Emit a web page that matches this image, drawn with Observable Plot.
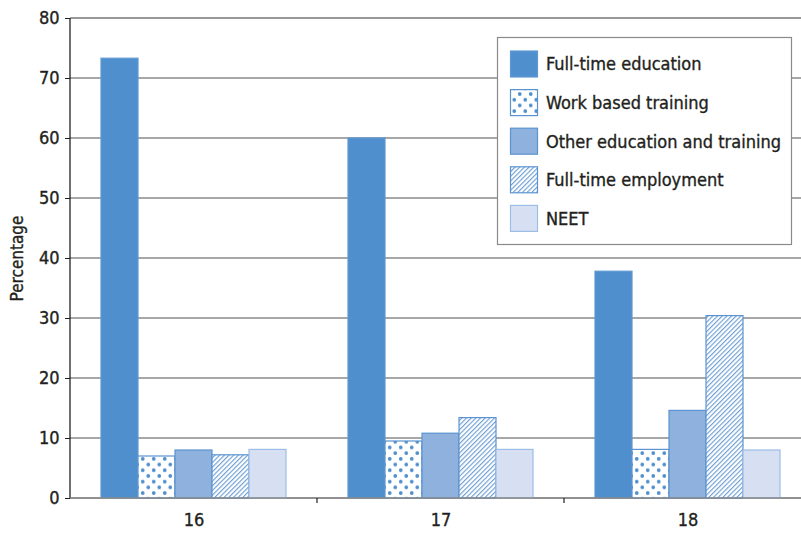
<!DOCTYPE html>
<html>
<head>
<meta charset="utf-8">
<script src="https://cdn.jsdelivr.net/npm/d3@7"></script>
<script src="https://cdn.jsdelivr.net/npm/@observablehq/plot@0.6"></script>
<style>
  html, body { margin: 0; padding: 0; background: #fff; }
  #chart svg { display: block; }
  #chart svg text { stroke: #231f20; stroke-width: 0.35px; fill: #231f20; }
</style>
</head>
<body>
<div id="chart"></div>
<script>
// ---- data ----
const ages = ["16", "17", "18"];
const categories = ["Full-time education", "Work based training", "Other education and training", "Full-time employment", "NEET"];
const fullTimeEducation = [73.3, 60.0, 37.8];
const workBasedTraining = [7.0, 9.5, 8.1];
const otherEducation = [8.0, 10.8, 14.6];
const fullTimeEmployment = [7.2, 13.4, 30.4];
const neet = [8.1, 8.1, 8.0];
const yTicks = [0, 10, 20, 30, 40, 50, 60, 70, 80];

// ---- styles ----
const fills = ["#4f8fcd", "url(#dots)", "#8fb1dd", "url(#hatch)", "#d7e0f2"];
const strokes = ["#5f9ad3", "#5b93d0", "#5b93d0", "#5b93d0", "#9cbde6"];
const font = "'Liberation Sans Narrow', 'DejaVu Sans Condensed', Arial, sans-serif";

const series = [fullTimeEducation, workBasedTraining, otherEducation, fullTimeEmployment, neet];
const data = [];
ages.forEach((age, i) => {
  categories.forEach((cat, j) => {
    data.push({age, cat, value: series[j][i], fill: fills[j], stroke: strokes[j]});
  });
});

const W = 801, H = 533;
const plot = Plot.plot({
  width: W,
  height: H,
  marginLeft: 70,
  marginRight: -10,
  marginTop: 18,
  marginBottom: 35,
  style: {fontFamily: font, fontSize: "18px", color: "#231f20", background: "#fff"},
  fx: {domain: ages, paddingInner: 0.243, paddingOuter: 0.1215, tickSize: 0, tickPadding: 15, label: null},
  x: {domain: categories, padding: 0, axis: null},
  y: {domain: [0, 80], ticks: yTicks, tickSize: 5, tickPadding: 6, label: "Percentage", labelAnchor: "center", labelOffset: 60, tickFormat: d => String(d)},
  color: {type: "identity"},
  facet: {data, x: "age"},
  marks: [
    Plot.barY(data, {x: "cat", y: "value", fill: "fill", stroke: "stroke", strokeWidth: 1.2})
  ]
});

const svg = d3.select(plot);
const y = plot.scale("y");
const fx = plot.scale("fx");
const left = 70;

// move Plot's y axis from the first facet's edge to the frame's left edge
const shift = fx.apply(ages[0]) - left;
svg.selectAll("g").filter(function () {
  const a = this.getAttribute("aria-label") || "";
  return a.startsWith("y-axis");
}).each(function () {
  const t = this.getAttribute("transform") || "";
  this.setAttribute("transform", `translate(${-shift},0) ${t}`);
});
svg.selectAll("text").filter(function () { return /Percentage/.test(this.textContent); })
  .each(function () {
    const tspans = d3.select(this).selectAll("tspan");
    if (tspans.size()) tspans.text(function () { return this.textContent.replace(/\s*[↑→]\s*/g, ""); });
    else d3.select(this).text("Percentage");
  })
  .attr("font-size", 17);

// patterns
const defs = svg.insert("defs", ":first-child");
const dots = defs.append("pattern").attr("id", "dots").attr("patternUnits", "userSpaceOnUse")
  .attr("width", 11).attr("height", 11.4);
dots.append("rect").attr("width", 11).attr("height", 11.4).attr("fill", "#fff");
[[2.75, 2.85], [8.25, 8.55], [8.25, -2.85], [-2.75, 8.55], [13.75, 8.55], [8.25, 14.25]].forEach(([cx, cy]) =>
  dots.append("circle").attr("cx", cx).attr("cy", cy).attr("r", 1.9).attr("fill", "#4f8fcd"));
const hatch = defs.append("pattern").attr("id", "hatch").attr("patternUnits", "userSpaceOnUse")
  .attr("width", 3.3).attr("height", 6).attr("patternTransform", "rotate(45)");
hatch.append("rect").attr("width", 3.3).attr("height", 6).attr("fill", "#fff");
hatch.append("line").attr("x1", 0.6).attr("y1", 0).attr("x2", 0.6).attr("y2", 6).attr("stroke", "#5b93d0").attr("stroke-width", 1);

// gridlines, axis line, baseline, separators (via Plot scales)
const under = svg.insert("g", "g[aria-label='bar']");
yTicks.forEach(t => {
  under.append("line").attr("x1", left).attr("x2", W).attr("y1", y.apply(t)).attr("y2", y.apply(t))
    .attr("stroke", t === 80 ? "#333" : "#8a8a8a").attr("stroke-width", t === 80 ? 1.2 : 1.5);
});
svg.append("line").attr("x1", left).attr("x2", left).attr("y1", y.apply(80)).attr("y2", y.apply(0) + 0.5)
  .attr("stroke", "#231f20").attr("stroke-width", 1.3);
svg.append("line").attr("x1", left).attr("x2", W).attr("y1", y.apply(0)).attr("y2", y.apply(0))
  .attr("stroke", "#8a8a8a").attr("stroke-width", 1.5);
for (let i = 0; i < ages.length - 1; i++) {
  const xa = fx.apply(ages[i]) + fx.bandwidth, xb = fx.apply(ages[i + 1]);
  const xs = (xa + xb) / 2;
  svg.append("line").attr("x1", xs).attr("x2", xs).attr("y1", y.apply(0)).attr("y2", y.apply(0) + 5)
    .attr("stroke", "#231f20").attr("stroke-width", 1.2);
}

// legend
const lg = svg.append("g").attr("font-family", font).attr("font-size", 18).attr("fill", "#231f20")
  .attr("text-anchor", "start");
lg.append("rect").attr("x", 497.5).attr("y", 37.5).attr("width", 294).attr("height", 207)
  .attr("fill", "#fff").attr("stroke", "#8a8a8a").attr("stroke-width", 1.2);
categories.forEach((c, j) => {
  const cy = 64 + j * 38.6;
  lg.append("rect").attr("x", 510.5).attr("y", cy - 13).attr("width", 27).attr("height", 26)
    .attr("fill", fills[j]).attr("stroke", strokes[j]).attr("stroke-width", 1.2);
  lg.append("text").attr("x", 546).attr("y", cy).attr("dy", "0.36em").attr("text-anchor", "start").text(c);
});

document.getElementById("chart").appendChild(plot);
</script>
</body>
</html>
